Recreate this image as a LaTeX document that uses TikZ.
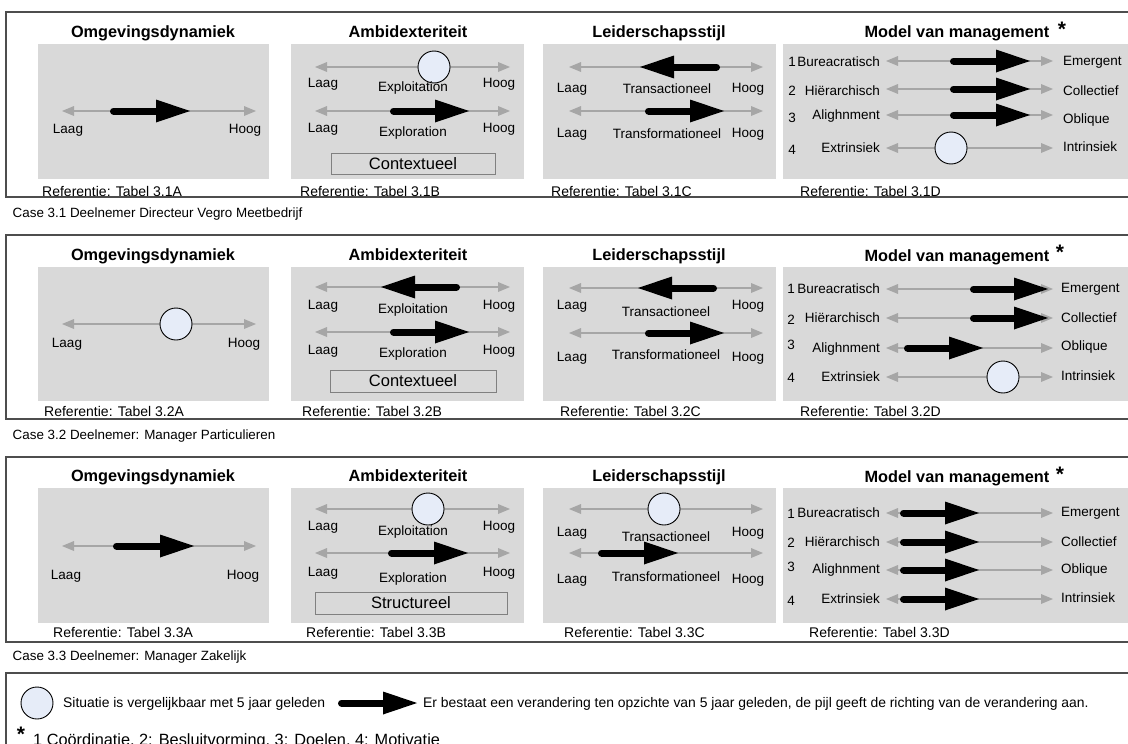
\documentclass[tikz,border=0pt]{standalone}
\usepackage{fontspec}
\setmainfont{Liberation Sans}
\usetikzlibrary{arrows.meta}

\definecolor{framegray}{HTML}{4D4D4D}
\definecolor{panelgray}{HTML}{D9D9D9}
\definecolor{axisgray}{HTML}{A6A6A6}
\definecolor{boxgray}{HTML}{808080}
\definecolor{stablefill}{HTML}{E6ECF8}

\tikzset{
  frame/.style={draw=framegray, line width=1.3pt},
  panel/.style={fill=panelgray},
  scaleaxis/.style={draw=axisgray, line width=2pt,
    {Triangle[length=12pt,width=10pt,line width=0pt]}-{Triangle[length=12pt,width=10pt,line width=0pt]}},
  shiftarrow/.style={draw=black, line width=7pt, line cap=round, shorten <=3.5pt,
    -{Triangle[length=34pt,width=23pt,line width=0pt]}},
  stable/.style={circle, draw=black, line width=0.9pt, fill=stablefill, minimum size=32pt, inner sep=0pt},
  title/.style={font=\fontsize{16.3}{18}\selectfont\bfseries, inner sep=0pt, anchor=base},
  star/.style={font=\fontsize{21}{21}\selectfont\bfseries, inner sep=0pt, anchor=north},
  lbl/.style={font=\fontsize{13.5}{15}\selectfont, inner sep=0pt},
  lbll/.style={lbl, anchor=east},
  lblr/.style={lbl, anchor=west},
  ref/.style={font=\fontsize{14}{15}\selectfont, inner sep=0pt, anchor=west},
  case/.style={font=\fontsize{13.4}{15}\selectfont, inner sep=0pt, anchor=west},
  legend/.style={font=\fontsize{13.9}{16}\selectfont, inner sep=0pt, anchor=west},
  typebox/.style={draw=boxgray, line width=1pt, font=\fontsize{16.5}{18}\selectfont, inner sep=0pt},
}

% scale line with arrow heads at both ends: name, x from, x to, y
\newcommand\scaleline[4]{%
  \coordinate (#1-lo) at (#2,#4); \coordinate (#1-hi) at (#3,#4);
  \draw[scaleaxis] (#1-lo) -- (#1-hi);}
% direction of change: name, tail x, tip x, y
\newcommand\changearrow[4]{%
  \coordinate (#1-from) at (#2,#4); \coordinate (#1-to) at (#3,#4);
  \draw[shiftarrow] (#1-from) -- (#1-to);}
% unchanged situation: name, x, y
\newcommand\stablemark[3]{\node[stable] (#1) at (#2,#3) {};}

\begin{document}
\begin{tikzpicture}[x=1pt, y=-1pt]
\useasboundingbox (0,0) rectangle (1128,744);
\clip (0,0) rectangle (1128,744);
\fill[white] (0,0) rectangle (1128,744);

% ================= Case 3.1 =================
\draw[frame] (6,12) rectangle (1145,197);
\fill[panel] (38,44) rectangle (269,179);
\fill[panel] (291,44) rectangle (524,179);
\fill[panel] (543,44) rectangle (776,179);
\fill[panel] (783,44) rectangle (1130,179);

\node[title] (t1a) at (153,37) {Omgevingsdynamiek};
\node[title] (t1b) at (408,37) {Ambidexteriteit};
\node[title] (t1c) at (659,37) {Leiderschapsstijl};
\node[title] (t1d) at (957,37) {Model van management};
\node[star] (s1) at (1062,22) {*};

% Omgevingsdynamiek
\scaleline{a1}{62}{256}{111}
\changearrow{a1c}{110}{190}{111}
\node[lbl] (a1l) at (68,130) {Laag};
\node[lbl] (a1h) at (245,130) {Hoog};

% Ambidexteriteit
\scaleline{b1x}{315}{510}{67}
\stablemark{b1xs}{434}{67}
\node[lbl] (b1xl) at (323,84) {Laag};
\node[lbl] (b1xn) at (413,88) {Exploitation};
\node[lbl] (b1xh) at (499,84) {Hoog};
\scaleline{b1r}{315}{510}{111}
\changearrow{b1rc}{390}{469}{111}
\node[lbl] (b1rl) at (323,129) {Laag};
\node[lbl] (b1rn) at (413,133) {Exploration};
\node[lbl] (b1rh) at (499,129) {Hoog};
\node[typebox, minimum width=164pt, minimum height=21pt] (b1t) at (413,163.5) {Contextueel};

% Leiderschapsstijl
\scaleline{c1a}{569}{763}{67}
\changearrow{c1ac}{720}{640}{67}
\node[lbl] (c1al) at (572,89) {Laag};
\node[lbl] (c1an) at (667,89) {Transactioneel};
\node[lbl] (c1ah) at (748,89) {Hoog};
\scaleline{c1f}{569}{763}{111}
\changearrow{c1fc}{645}{724}{111}
\node[lbl] (c1fl) at (572,134) {Laag};
\node[lbl] (c1fn) at (667,134) {Transformationeel};
\node[lbl] (c1fh) at (748,134) {Hoog};

% Model van management
\node[lbl] (d1n1) at (792,62) {1};
\node[lbl] (d1n2) at (792,91) {2};
\node[lbl] (d1n3) at (792,118) {3};
\node[lbl] (d1n4) at (792,150) {4};
\node[lbll] (d1l1) at (880,62) {Bureacratisch};
\node[lbll] (d1l2) at (880,91) {Hiërarchisch};
\node[lbll] (d1l3) at (880,116) {Alighnment};
\node[lbll] (d1l4) at (880,148) {Extrinsiek};
\node[lblr] (d1r1) at (1063,62) {Emergent};
\node[lblr] (d1r2) at (1063,91) {Collectief};
\node[lblr] (d1r3) at (1063,120) {Oblique};
\node[lblr] (d1r4) at (1063,147) {Intrinsiek};
\scaleline{d1a}{886}{1053}{61}
\scaleline{d1b}{886}{1053}{89}
\scaleline{d1c}{886}{1053}{115}
\scaleline{d1d}{886}{1053}{148}
\changearrow{d1ac}{950}{1030}{61}
\changearrow{d1bc}{950}{1030}{89}
\changearrow{d1cc}{950}{1030}{115}
\stablemark{d1ds}{951}{148}

\node[ref] (r1a) at (42,191) {Referentie: Tabel 3.1A};
\node[ref] (r1b) at (300,191) {Referentie: Tabel 3.1B};
\node[ref] (r1c) at (551,191) {Referentie: Tabel 3.1C};
\node[ref] (r1d) at (800,191) {Referentie: Tabel 3.1D};

\node[case] (case1) at (12.5,214) {Case 3.1 Deelnemer Directeur Vegro Meetbedrijf};

% ================= Case 3.2 =================
\draw[frame] (6,235) rectangle (1145,419);
\fill[panel] (38,267) rectangle (269,401);
\fill[panel] (291,267) rectangle (524,401);
\fill[panel] (543,267) rectangle (776,401);
\fill[panel] (783,267) rectangle (1130,401);

\node[title] (t2a) at (153,260) {Omgevingsdynamiek};
\node[title] (t2b) at (408,260) {Ambidexteriteit};
\node[title] (t2c) at (659,260) {Leiderschapsstijl};
\node[title] (t2d) at (957,261) {Model van management};
\node[star] (s2) at (1060,245) {*};

\scaleline{a2}{62}{256}{324}
\stablemark{a2s}{176}{324}
\node[lbl] (a2l) at (67,344) {Laag};
\node[lbl] (a2h) at (244,344) {Hoog};

\scaleline{b2x}{315}{510}{287}
\changearrow{b2xc}{460}{381}{287}
\node[lbl] (b2xl) at (323,306) {Laag};
\node[lbl] (b2xn) at (413,310) {Exploitation};
\node[lbl] (b2xh) at (499,306) {Hoog};
\scaleline{b2r}{315}{510}{332}
\changearrow{b2rc}{390}{469}{332}
\node[lbl] (b2rl) at (323,351) {Laag};
\node[lbl] (b2rn) at (413,354) {Exploration};
\node[lbl] (b2rh) at (499,351) {Hoog};
\node[typebox, minimum width=166pt, minimum height=22pt] (b2t) at (413,381) {Contextueel};

\scaleline{c2a}{569}{763}{288}
\changearrow{c2ac}{717}{638}{288}
\node[lbl] (c2al) at (572,306) {Laag};
\node[lbl] (c2an) at (666,312) {Transactioneel};
\node[lbl] (c2ah) at (748,306) {Hoog};
\scaleline{c2f}{569}{763}{333}
\changearrow{c2fc}{645}{724}{333}
\node[lbl] (c2fl) at (572,358) {Laag};
\node[lbl] (c2fn) at (666,355) {Transformationeel};
\node[lbl] (c2fh) at (748,358) {Hoog};

\node[lbl] (d2n1) at (791,289) {1};
\node[lbl] (d2n2) at (791,320) {2};
\node[lbl] (d2n3) at (791,345) {3};
\node[lbl] (d2n4) at (791,378) {4};
\node[lbll] (d2l1) at (880,289) {Bureacratisch};
\node[lbll] (d2l2) at (880,318) {Hiërarchisch};
\node[lbll] (d2l3) at (880,349) {Alighnment};
\node[lbll] (d2l4) at (880,377) {Extrinsiek};
\node[lblr] (d2r1) at (1061,289) {Emergent};
\node[lblr] (d2r2) at (1061,318) {Collectief};
\node[lblr] (d2r3) at (1061,347) {Oblique};
\node[lblr] (d2r4) at (1061,376) {Intrinsiek};
\scaleline{d2a}{886}{1053}{289}
\scaleline{d2b}{886}{1053}{318}
\scaleline{d2c}{886}{1053}{348}
\scaleline{d2d}{886}{1053}{377}
\changearrow{d2ac}{970}{1048}{289}
\changearrow{d2bc}{970}{1048}{318}
\changearrow{d2cc}{904}{983}{348}
\stablemark{d2ds}{1003}{377}

\node[ref] (r2a) at (44,411) {Referentie: Tabel 3.2A};
\node[ref] (r2b) at (302,411) {Referentie: Tabel 3.2B};
\node[ref] (r2c) at (560,411) {Referentie: Tabel 3.2C};
\node[ref] (r2d) at (800,411) {Referentie: Tabel 3.2D};

\node[case] (case2) at (12.5,436) {Case 3.2 Deelnemer: Manager Particulieren};

% ================= Case 3.3 =================
\draw[frame] (6,457) rectangle (1145,642);
\fill[panel] (38,488) rectangle (269,623);
\fill[panel] (291,488) rectangle (524,623);
\fill[panel] (543,488) rectangle (776,623);
\fill[panel] (783,488) rectangle (1130,623);

\node[title] (t3a) at (153,481) {Omgevingsdynamiek};
\node[title] (t3b) at (408,481) {Ambidexteriteit};
\node[title] (t3c) at (659,481) {Leiderschapsstijl};
\node[title] (t3d) at (957,482) {Model van management};
\node[star] (s3) at (1060,467) {*};

\scaleline{a3}{62}{256}{546}
\changearrow{a3c}{113}{194}{546}
\node[lbl] (a3l) at (66,576) {Laag};
\node[lbl] (a3h) at (243,576) {Hoog};

\scaleline{b3x}{315}{510}{509}
\stablemark{b3xs}{428}{509}
\node[lbl] (b3xl) at (323,527) {Laag};
\node[lbl] (b3xn) at (413,532) {Exploitation};
\node[lbl] (b3xh) at (499,527) {Hoog};
\scaleline{b3r}{315}{510}{553}
\changearrow{b3rc}{388}{468}{553}
\node[lbl] (b3rl) at (323,573) {Laag};
\node[lbl] (b3rn) at (413,579) {Exploration};
\node[lbl] (b3rh) at (499,573) {Hoog};
\node[typebox, minimum width=192pt, minimum height=22pt] (b3t) at (411,603) {Structureel};

\scaleline{c3a}{569}{763}{509}
\stablemark{c3as}{664}{509}
\node[lbl] (c3al) at (572,533) {Laag};
\node[lbl] (c3an) at (666,537) {Transactioneel};
\node[lbl] (c3ah) at (748,533) {Hoog};
\scaleline{c3f}{569}{763}{553}
\changearrow{c3fc}{598}{678}{553}
\node[lbl] (c3fl) at (572,580) {Laag};
\node[lbl] (c3fn) at (666,577) {Transformationeel};
\node[lbl] (c3fh) at (748,580) {Hoog};

\node[lbl] (d3n1) at (791,514) {1};
\node[lbl] (d3n2) at (791,543) {2};
\node[lbl] (d3n3) at (791,567) {3};
\node[lbl] (d3n4) at (791,601) {4};
\node[lbll] (d3l1) at (880,513) {Bureacratisch};
\node[lbll] (d3l2) at (880,542) {Hiërarchisch};
\node[lbll] (d3l3) at (880,570) {Alighnment};
\node[lbll] (d3l4) at (880,599) {Extrinsiek};
\node[lblr] (d3r1) at (1061,513) {Emergent};
\node[lblr] (d3r2) at (1061,542) {Collectief};
\node[lblr] (d3r3) at (1061,570) {Oblique};
\node[lblr] (d3r4) at (1061,598) {Intrinsiek};
\scaleline{d3a}{886}{1053}{513}
\scaleline{d3b}{886}{1053}{542}
\scaleline{d3c}{886}{1053}{570}
\scaleline{d3d}{886}{1053}{599}
\changearrow{d3ac}{900}{979}{513}
\changearrow{d3bc}{900}{979}{542}
\changearrow{d3cc}{900}{979}{570}
\changearrow{d3dc}{900}{979}{599}

\node[ref] (r3a) at (53,632) {Referentie: Tabel 3.3A};
\node[ref] (r3b) at (306,632) {Referentie: Tabel 3.3B};
\node[ref] (r3c) at (564,632) {Referentie: Tabel 3.3C};
\node[ref] (r3d) at (809,632) {Referentie: Tabel 3.3D};

\node[case] (case3) at (12.5,657) {Case 3.3 Deelnemer: Manager Zakelijk};

% ================= Legenda =================
\draw[frame] (6,673) rectangle (1145,770);
\stablemark{lgs}{37}{703}
\node[legend] (lgst) at (63,704) {Situatie is vergelijkbaar met 5 jaar geleden};
\changearrow{lga}{338}{417}{703}
\node[legend] (lgat) at (423,704) {Er bestaat een verandering ten opzichte van 5 jaar geleden, de pijl geeft de richting van de verandering aan.};
\node[star] (lgstar) at (21,727) {*};
\node[font=\fontsize{16.3}{18}\selectfont, inner sep=0pt, anchor=base west] (lgnote) at (33,745)
  {1 Coördinatie, 2: Besluitvorming, 3: Doelen, 4: Motivatie};
\end{tikzpicture}
\end{document}
